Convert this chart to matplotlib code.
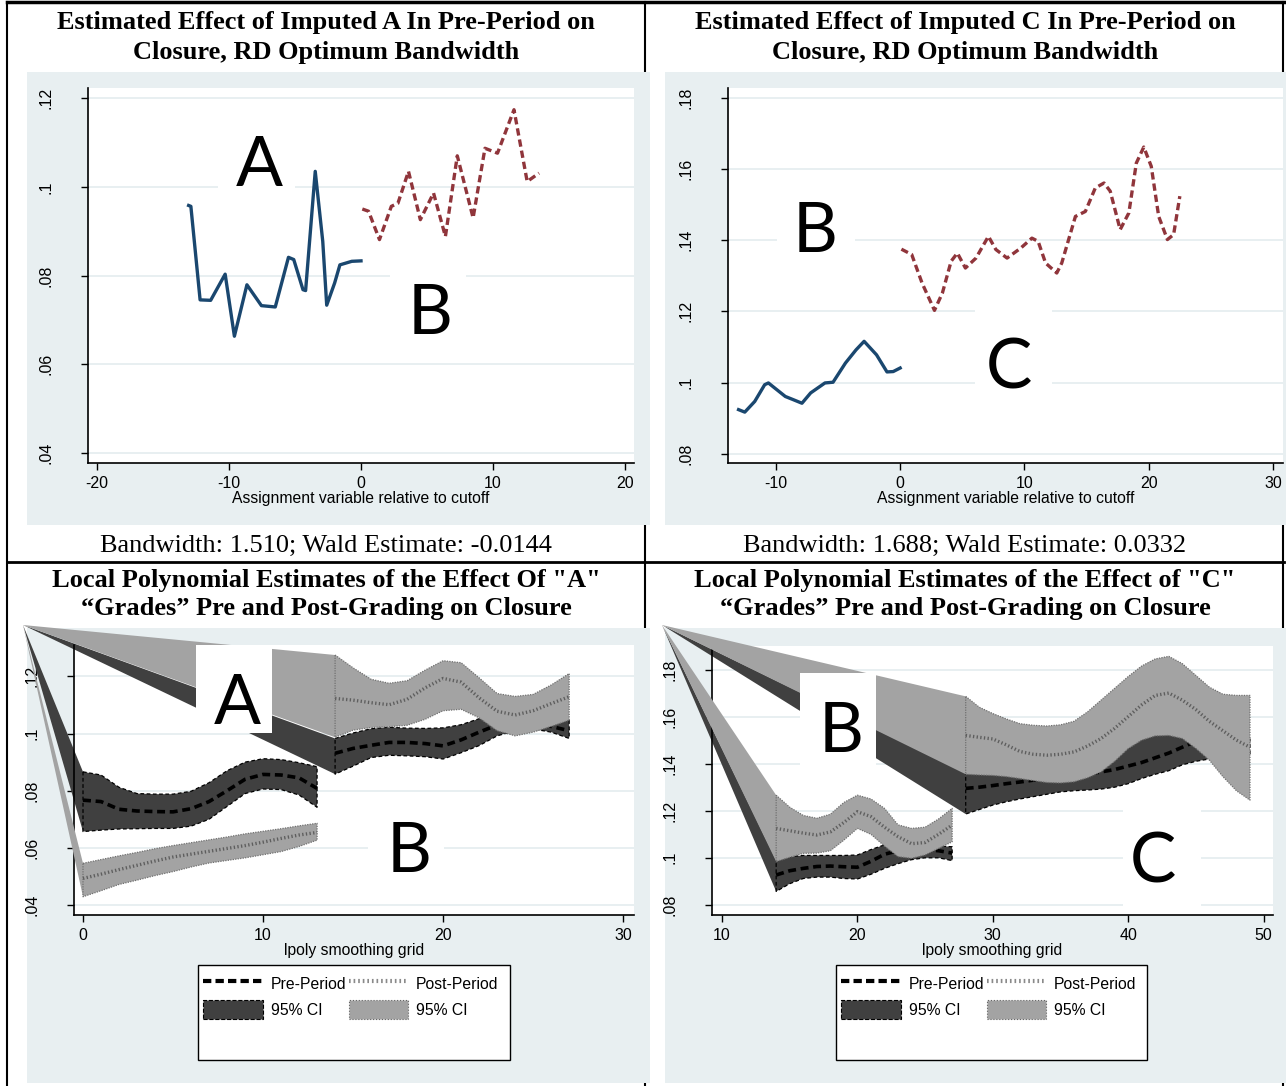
import numpy as np
import matplotlib
matplotlib.use("Agg")
import matplotlib.pyplot as plt
from matplotlib.patches import Rectangle, Polygon, Patch
from matplotlib.lines import Line2D

# canvas in pixels (dpi 100)
W, H = 1286, 1086

# ---- top row: RD plots -------------------------------------------------
# imputed A (left panel)
a_left_x = [-13.07, -12.9, -12.2, -11.4, -10.3, -9.6, -8.65, -7.55, -6.5, -5.5, -5.1,
            -4.4, -4.2, -3.47, -2.9, -2.6, -2.0, -1.6, -0.7, 0.0]
a_left_y = [0.0958, 0.0956, 0.0745, 0.0744, 0.0803, 0.0663, 0.0779, 0.0732, 0.0729, 0.0841,
            0.0836, 0.0768, 0.0766, 0.1035, 0.0877, 0.0733, 0.0783, 0.0824, 0.0832, 0.0833]
a_right_x = [0.1, 0.57, 1.4, 2.3, 2.8, 3.6, 4.5, 5.5, 6.4, 7.3, 8.5, 9.4, 10.35, 11.6, 12.6, 13.5]
a_right_y = [0.0950, 0.0945, 0.0881, 0.0956, 0.0963, 0.1035, 0.0926, 0.0986, 0.0888, 0.1070,
             0.0930, 0.1087, 0.1076, 0.1174, 0.1012, 0.1031]

# imputed C (right panel)
c_left_x = [-13.0, -12.5, -11.7, -10.9, -10.6, -10.1, -9.24, -8.6, -7.9, -7.2, -6.05, -5.4,
            -4.4, -3.55, -2.9, -1.9, -1.06, -0.56, 0.0]
c_left_y = [0.0924, 0.0917, 0.0947, 0.0994, 0.0999, 0.0985, 0.0961, 0.0952, 0.0942, 0.0971,
            0.0999, 0.1001, 0.1055, 0.1092, 0.1116, 0.1078, 0.1030, 0.1031, 0.1041]
c_right_x = [0.1, 0.93, 1.76, 2.76, 3.4, 4.1, 4.6, 5.25, 6.1, 7.1, 7.7, 8.6, 9.7, 10.6, 11.1,
             11.7, 12.6, 13.0, 14.1, 14.9, 15.7, 16.4, 16.9, 17.7, 18.4, 19.0, 19.6, 20.2,
             20.8, 21.5, 22.0, 22.5]
c_right_y = [0.1375, 0.1360, 0.1280, 0.1203, 0.1252, 0.1341, 0.1364, 0.1322, 0.1350, 0.1411,
             0.1374, 0.1350, 0.1378, 0.1406, 0.1397, 0.1336, 0.1308, 0.1336, 0.1467, 0.1481,
             0.1547, 0.1561, 0.1538, 0.1430, 0.1477, 0.1617, 0.1662, 0.1608, 0.1467, 0.1402,
             0.1416, 0.1524]

# ---- bottom row: lpoly estimates ---------------------------------------
grid_a1 = np.arange(0, 14)
grid_a2 = np.arange(14, 28)
a_pre1 = [0.0767, 0.0762, 0.0735, 0.0729, 0.0727, 0.0726, 0.0737, 0.0762, 0.0800, 0.0840, 0.0857, 0.0855, 0.0845, 0.0808]
a_pre1_hi = [0.0866, 0.0855, 0.0812, 0.0790, 0.0788, 0.0788, 0.0798, 0.0828, 0.0870, 0.0900, 0.0912, 0.0909, 0.0898, 0.0884]
a_pre1_lo = [0.0657, 0.0662, 0.0666, 0.0667, 0.0668, 0.0668, 0.0676, 0.0700, 0.0745, 0.0790, 0.0806, 0.0804, 0.0785, 0.0742]
a_post1 = [0.0493, 0.0508, 0.0524, 0.0539, 0.0554, 0.0568, 0.0578, 0.0588, 0.0598, 0.0608, 0.0620, 0.0633, 0.0645, 0.0654]
a_post1_hi = [0.0546, 0.0559, 0.0572, 0.0584, 0.0597, 0.0608, 0.0618, 0.0628, 0.0638, 0.0649, 0.0658, 0.0667, 0.0677, 0.0686]
a_post1_lo = [0.0429, 0.0450, 0.0472, 0.0487, 0.0503, 0.0517, 0.0533, 0.0547, 0.0556, 0.0565, 0.0576, 0.0587, 0.0605, 0.0627]
a_pre2 = [0.0931, 0.0948, 0.0959, 0.0969, 0.0969, 0.0965, 0.0957, 0.0978, 0.1005, 0.1030, 0.1040, 0.1040, 0.1025, 0.1010]
a_pre2_hi = [0.0983, 0.1002, 0.1017, 0.1022, 0.1019, 0.1018, 0.1020, 0.1031, 0.1052, 0.1066, 0.1068, 0.1062, 0.1055, 0.1047]
a_pre2_lo = [0.0858, 0.0886, 0.0916, 0.0924, 0.0922, 0.0919, 0.0911, 0.0933, 0.0958, 0.0992, 0.1010, 0.1016, 0.1005, 0.0983]
a_post2 = [0.1123, 0.1117, 0.1108, 0.1101, 0.1120, 0.1160, 0.1193, 0.1180, 0.1125, 0.1078, 0.1065, 0.1080, 0.1105, 0.1129]
a_post2_hi = [0.1275, 0.1230, 0.1190, 0.1176, 0.1185, 0.1222, 0.1255, 0.1248, 0.1195, 0.1140, 0.1130, 0.1137, 0.1170, 0.1210]
a_post2_lo = [0.0987, 0.1012, 0.1021, 0.1024, 0.1029, 0.1050, 0.1080, 0.1085, 0.1055, 0.1010, 0.0992, 0.1005, 0.1025, 0.1047]

grid_c1 = np.arange(14, 28)
grid_c2 = np.arange(28, 50)
c_pre1 = [0.0927, 0.0945, 0.0955, 0.0963, 0.0965, 0.0962, 0.0960, 0.0985, 0.1015, 0.1030, 0.1035, 0.1035, 0.1030, 0.1020]
c_pre1_hi = [0.0990, 0.1005, 0.1010, 0.1010, 0.1010, 0.1010, 0.1012, 0.1035, 0.1055, 0.1062, 0.1058, 0.1052, 0.1050, 0.1047]
c_pre1_lo = [0.0857, 0.0890, 0.0912, 0.0918, 0.0918, 0.0912, 0.0910, 0.0930, 0.0955, 0.0975, 0.0992, 0.1000, 0.1000, 0.0988]
c_post1 = [0.1125, 0.1115, 0.1105, 0.1097, 0.1110, 0.1150, 0.1196, 0.1175, 0.1130, 0.1090, 0.1060, 0.1065, 0.1100, 0.1139]
c_post1_hi = [0.1266, 0.1215, 0.1180, 0.1168, 0.1185, 0.1235, 0.1266, 0.1250, 0.1210, 0.1140, 0.1125, 0.1130, 0.1165, 0.1210]
c_post1_lo = [0.0984, 0.1002, 0.1019, 0.1020, 0.1030, 0.1075, 0.1125, 0.1100, 0.1050, 0.1005, 0.0998, 0.1012, 0.1040, 0.1068]
c_pre2 = [0.1295, 0.1300, 0.1307, 0.1315, 0.1322, 0.1330, 0.1335, 0.1340, 0.1345, 0.1355, 0.1365,
          0.1375, 0.1390, 0.1405, 0.1425, 0.1445, 0.1470, 0.1495, 0.1505, 0.1500, 0.1490, 0.1480]
c_pre2_hi = [0.1360, 0.1360, 0.1362, 0.1360, 0.1355, 0.1352, 0.1352, 0.1360, 0.1375, 0.1400, 0.1435,
             0.1470, 0.1495, 0.1520, 0.1540, 0.1545, 0.1540, 0.1530, 0.1530, 0.1525, 0.1515, 0.1505]
c_pre2_lo = [0.1186, 0.1205, 0.1224, 0.1238, 0.1250, 0.1260, 0.1270, 0.1280, 0.1285, 0.1288, 0.1292,
             0.1300, 0.1315, 0.1337, 0.1355, 0.1370, 0.1395, 0.1410, 0.1420, 0.1425, 0.1430, 0.1430]
c_post2 = [0.1520, 0.1512, 0.1505, 0.1480, 0.1452, 0.1440, 0.1436, 0.1440, 0.1450, 0.1475, 0.1507,
           0.1550, 0.1600, 0.1650, 0.1690, 0.1700, 0.1670, 0.1630, 0.1580, 0.1540, 0.1500, 0.1470]
c_post2_hi = [0.1686, 0.1640, 0.1613, 0.1590, 0.1570, 0.1563, 0.1560, 0.1565, 0.1580, 0.1620, 0.1670,
              0.1720, 0.1770, 0.1815, 0.1845, 0.1856, 0.1825, 0.1775, 0.1725, 0.1695, 0.1690, 0.1690]
c_post2_lo = [0.1355, 0.1352, 0.1350, 0.1345, 0.1337, 0.1328, 0.1320, 0.1318, 0.1323, 0.1340, 0.1365,
              0.1410, 0.1464, 0.1500, 0.1518, 0.1520, 0.1507, 0.1465, 0.1415, 0.1345, 0.1285, 0.1245]

# colours
NAVY = "#1a476f"
MAROON = "#90353b"
BG = "#e8eff1"
GRID = "#e6eef0"
DARK = "#404040"
LIGHT = "#a3a3a3"
POSTLINE = "#5e5e5e"

fig = plt.figure(figsize=(W / 100, H / 100), dpi=100)
fig.patch.set_facecolor("white")


def fbox(x0, y0, x1, y1):
    return [x0 / W, 1 - y1 / H, (x1 - x0) / W, (y1 - y0) / H]


def fline(x0, y0, x1, y1, lw=1.5):
    fig.add_artist(Line2D([x0 / W, x1 / W], [1 - y0 / H, 1 - y1 / H],
                          transform=fig.transFigure, color="black", lw=lw, zorder=-2))


def frect(x0, y0, x1, y1, **kw):
    b = fbox(x0, y0, x1, y1)
    r = Rectangle((b[0], b[1]), b[2], b[3], transform=fig.transFigure, **kw)
    fig.add_artist(r)
    return r


def ftext(x, y, s, **kw):
    fig.text(x / W, 1 - y / H, s, ha="center", va="center", **kw)


def letter(s, cx, cy, x0, y0, x1, y1):
    frect(x0, y0, x1, y1, facecolor="white", edgecolor="none", zorder=6)
    ftext(cx, cy, s, fontsize=50, family="Lato", color="black", zorder=7)


# table frame
fline(7, 2, 1284, 2, lw=2.5)
fline(7, 2, 7, 1086)
fline(1283, 2, 1283, 1086)
fline(645, 2, 645, 1086)
fline(7, 562, 1284, 562, lw=2)

# panel backgrounds
for bx in [(27, 72, 650, 525), (665, 72, 1286, 525), (27, 628, 650, 1083), (665, 628, 1286, 1083)]:
    frect(*bx, facecolor=BG, edgecolor="none", zorder=-1)

# header texts
TFONT = dict(family="Liberation Serif", fontweight="bold", fontsize=19)
ftext(326, 22, "Estimated Effect of Imputed A In Pre-Period on", **TFONT)
ftext(326, 52, "Closure, RD Optimum Bandwidth", **TFONT)
ftext(965, 22, "Estimated Effect of Imputed C In Pre-Period on", **TFONT)
ftext(965, 52, "Closure, RD Optimum Bandwidth", **TFONT)
ftext(326, 546, "Bandwidth: 1.510; Wald Estimate: -0.0144", family="Liberation Serif", fontsize=19)
ftext(965, 546, "Bandwidth: 1.688; Wald Estimate: 0.0332", family="Liberation Serif", fontsize=19)
ftext(326, 580, 'Local Polynomial Estimates of the Effect Of "A"', **TFONT)
ftext(326, 609, "\u201cGrades\u201d Pre and Post-Grading on Closure", **TFONT)
ftext(965, 580, 'Local Polynomial Estimates of the Effect of "C"', **TFONT)
ftext(965, 609, "\u201cGrades\u201d Pre and Post-Grading on Closure", **TFONT)


def style_axes(ax, xlim, ylim, xticks, yticks, ylabels, xlabel):
    ax.set_facecolor("white")
    ax.set_xlim(*xlim)
    ax.set_ylim(*ylim)
    ax.set_xticks(xticks)
    ax.set_xticklabels([str(t) for t in xticks], family="Liberation Sans", fontsize=11.5)
    ax.set_yticks(yticks)
    ax.set_yticklabels(ylabels, rotation=90, va="center", family="Liberation Sans", fontsize=11.5)
    for side in ("top", "right"):
        ax.spines[side].set_visible(False)
    for side in ("left", "bottom"):
        ax.spines[side].set_linewidth(1.2)
    ax.tick_params(axis="both", direction="out", length=5, width=1)
    ax.tick_params(axis="y", pad=20)
    ax.tick_params(axis="x", pad=4.5)
    ax.grid(axis="y", color=GRID, lw=1.3)
    ax.set_axisbelow(True)
    ax.set_xlabel(xlabel, family="Liberation Sans", fontsize=11.3, labelpad=0)


# ---- top-left
ax1 = fig.add_axes(fbox(88, 88, 634, 463))
style_axes(ax1, (-20.7, 20.7), (0.0377, 0.1223), [-20, -10, 0, 10, 20],
           [0.04, 0.06, 0.08, 0.10, 0.12], [".04", ".06", ".08", ".1", ".12"],
           "Assignment variable relative to cutoff")
ax1.plot(a_left_x, a_left_y, color=NAVY, lw=2.4)
ax1.plot(a_right_x, a_right_y, color=MAROON, lw=2.4, ls=(0, (2.2, 1.2)))
letter("A", 259, 167, 218, 125, 295, 200)
letter("B", 430, 314, 390, 265, 466, 345)

# ---- top-right
ax2 = fig.add_axes(fbox(728, 88, 1283, 463))
style_axes(ax2, (-13.85, 30.8), (0.0774, 0.1828), [-10, 0, 10, 20, 30],
           [0.08, 0.10, 0.12, 0.14, 0.16, 0.18], [".08", ".1", ".12", ".14", ".16", ".18"],
           "Assignment variable relative to cutoff")
ax2.plot(c_left_x, c_left_y, color=NAVY, lw=2.4)
ax2.plot(c_right_x, c_right_y, color=MAROON, lw=2.4, ls=(0, (2.2, 1.2)))
letter("B", 815, 233, 777, 195, 855, 265)
letter("C", 1009, 369, 975, 303, 1052, 397)


def band(ax, apex, x, lo, hi, face, edge, ls, z):
    x = np.asarray(x, float)
    lo = np.asarray(lo, float)
    hi = np.asarray(hi, float)
    verts = [tuple(apex)] + list(zip(x, hi)) + list(zip(x[::-1], lo[::-1]))
    ax.add_patch(Polygon(verts, closed=True, facecolor=face, edgecolor="none",
                         clip_on=False, zorder=z))
    ox = np.r_[x, x[::-1], x[0]]
    oy = np.r_[hi, lo[::-1], hi[0]]
    ax.plot(ox, oy, color=edge, lw=0.9, ls=ls, zorder=z + 0.1)


def lpoly_panel(ax, apex_px, segs_pre, segs_post):
    apex = ax.transData.inverted().transform((apex_px[0], H - apex_px[1]))
    for x, m, lo, hi in segs_pre:
        band(ax, apex, x, lo, hi, DARK, "black", (0, (3, 2)), 2)
    for x, m, lo, hi in segs_pre:
        ax.plot(x, m, color="black", lw=2.6, ls=(0, (2.2, 1.3)), zorder=3)
    for x, m, lo, hi in segs_post:
        band(ax, apex, x, lo, hi, LIGHT, "#707070", (0, (1, 1)), 4)
    for x, m, lo, hi in segs_post:
        ax.plot(x, m, color=POSTLINE, lw=2.4, ls=(0, (0.4, 0.7)), zorder=5)


# ---- bottom-left
ax3 = fig.add_axes(fbox(74, 645, 634, 915))
style_axes(ax3, (-0.5, 30.6), (0.0365, 0.131), [0, 10, 20, 30],
           [0.04, 0.06, 0.08, 0.10, 0.12], [".04", ".06", ".08", ".1", ".12"],
           "lpoly smoothing grid")
lpoly_panel(ax3, (23, 625),
            [(grid_a1, a_pre1, a_pre1_lo, a_pre1_hi), (grid_a2, a_pre2, a_pre2_lo, a_pre2_hi)],
            [(grid_a1, a_post1, a_post1_lo, a_post1_hi), (grid_a2, a_post2, a_post2_lo, a_post2_hi)])
letter("A", 237, 704, 196, 645, 272, 733)
letter("B", 409, 853, 368, 815, 444, 885)

# ---- bottom-right
ax4 = fig.add_axes(fbox(712, 646, 1273, 915))
style_axes(ax4, (9.26, 50.7), (0.0757, 0.19), [10, 20, 30, 40, 50],
           [0.08, 0.10, 0.12, 0.14, 0.16, 0.18], [".08", ".1", ".12", ".14", ".16", ".18"],
           "lpoly smoothing grid")
lpoly_panel(ax4, (662, 625),
            [(grid_c1, c_pre1, c_pre1_lo, c_pre1_hi), (grid_c2, c_pre2, c_pre2_lo, c_pre2_hi)],
            [(grid_c1, c_post1, c_post1_lo, c_post1_hi), (grid_c2, c_post2, c_post2_lo, c_post2_hi)])
letter("B", 841, 733, 800, 673, 876, 767)
letter("C", 1153, 863, 1123, 805, 1201, 910)

# legends
handles = [Line2D([], [], color="black", lw=3, ls=(0, (2, 1))),
           Patch(facecolor=DARK, edgecolor="black", ls="--", lw=0.8),
           Line2D([], [], color="#8a8a8a", lw=3, ls=(0, (0.4, 0.7))),
           Patch(facecolor=LIGHT, edgecolor="#666666", ls=":", lw=0.8)]
labels = ["Pre-Period", "95% CI", "Post-Period", "95% CI"]
for (x0, y0, x1, y1) in [(198, 965, 510, 1060), (836, 965, 1147, 1060)]:
    frect(x0, y0, x1, y1, facecolor="white", edgecolor="black", lw=1, zorder=4)
    fig.legend(handles, labels, ncol=2, loc="upper left",
               bbox_to_anchor=(x0 / W + 0.004, 1 - (y0 + 9) / H),
               frameon=False, prop=dict(family="Liberation Sans", size=11.3),
               handlelength=3.8, handleheight=1.5, columnspacing=0.15, handletextpad=0.5,
               labelspacing=0.45, borderaxespad=0, borderpad=0)

fig.savefig("out.png", dpi=100)
